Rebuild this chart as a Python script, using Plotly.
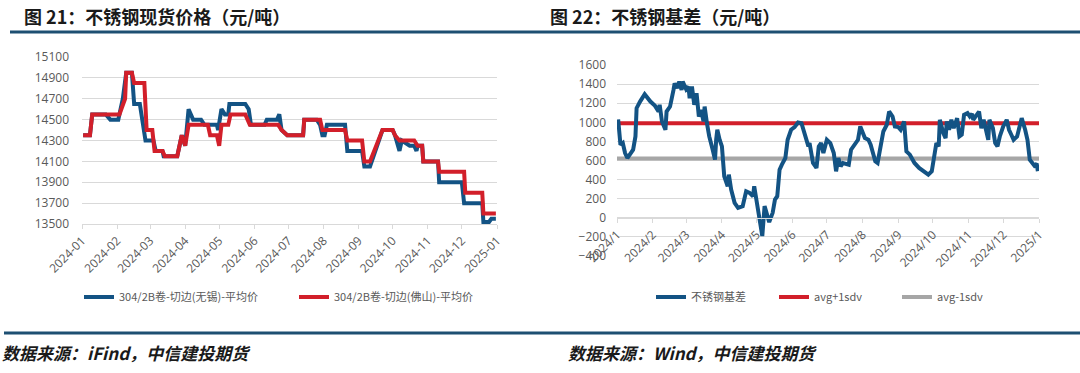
import plotly.graph_objects as go

# ---------------- data: left chart (不锈钢现货价格) ----------------
wx_dates = ["2024-01-02", "2024-01-08", "2024-01-10", "2024-01-22", "2024-01-26", "2024-02-02",
            "2024-02-06", "2024-02-09", "2024-02-14", "2024-02-16", "2024-02-21", "2024-02-23",
            "2024-02-26", "2024-03-04", "2024-03-06", "2024-03-12", "2024-03-13", "2024-03-25",
            "2024-03-29", "2024-04-01", "2024-04-04", "2024-04-08", "2024-04-15", "2024-04-18",
            "2024-04-29", "2024-04-30", "2024-05-03", "2024-05-06", "2024-05-09", "2024-05-10",
            "2024-05-24", "2024-05-27", "2024-05-29", "2024-06-10", "2024-06-12", "2024-06-21",
            "2024-06-23", "2024-06-25", "2024-06-30", "2024-07-14", "2024-07-15", "2024-07-26",
            "2024-07-29", "2024-07-31", "2024-08-02", "2024-08-04", "2024-08-20", "2024-08-22",
            "2024-09-04", "2024-09-06", "2024-09-11", "2024-09-22", "2024-10-01", "2024-10-03",
            "2024-10-07", "2024-10-09", "2024-10-16", "2024-10-20", "2024-10-22", "2024-10-23",
            "2024-10-27", "2024-10-28", "2024-11-10", "2024-11-11", "2024-12-01", "2024-12-03",
            "2024-12-19", "2024-12-20", "2024-12-25", "2024-12-27", "2024-12-31"]
wx_price = [14350, 14350, 14550, 14550, 14500, 14500,
            14700, 14950, 14950, 14650, 14650, 14500,
            14300, 14300, 14200, 14200, 14150, 14150,
            14350, 14250, 14600, 14500, 14500, 14450,
            14450, 14400, 14600, 14550, 14550, 14650,
            14650, 14600, 14450, 14450, 14500, 14500,
            14550, 14400, 14350, 14350, 14500, 14500,
            14450, 14350, 14350, 14450, 14450, 14200,
            14200, 14050, 14050, 14400, 14400, 14350,
            14200, 14300, 14250, 14250, 14200, 14250,
            14250, 14100, 14100, 13900, 13900, 13700,
            13700, 13520, 13520, 13550, 13550]

fs_dates = ["2024-01-02", "2024-01-08", "2024-01-10", "2024-02-03", "2024-02-08", "2024-02-09",
            "2024-02-14", "2024-02-16", "2024-02-25", "2024-02-27", "2024-03-03", "2024-03-05",
            "2024-03-12", "2024-03-14", "2024-03-25", "2024-03-29", "2024-04-01", "2024-04-04",
            "2024-04-21", "2024-04-23", "2024-04-29", "2024-05-01", "2024-05-03", "2024-05-09",
            "2024-05-11", "2024-05-24", "2024-05-28", "2024-06-22", "2024-06-25", "2024-06-30",
            "2024-07-14", "2024-07-15", "2024-07-29", "2024-07-31", "2024-08-20", "2024-08-22",
            "2024-09-04", "2024-09-06", "2024-09-11", "2024-09-22", "2024-10-01", "2024-10-03",
            "2024-10-07", "2024-10-20", "2024-10-23", "2024-10-27", "2024-10-28", "2024-11-10",
            "2024-11-11", "2024-12-03", "2024-12-04", "2024-12-19", "2024-12-20", "2024-12-31"]
fs_price = [14350, 14350, 14550, 14550, 14700, 14950,
            14950, 14850, 14850, 14400, 14400, 14200,
            14200, 14150, 14150, 14350, 14250, 14450,
            14450, 14350, 14350, 14250, 14450, 14450,
            14550, 14550, 14450, 14450, 14400, 14350,
            14350, 14500, 14500, 14400, 14400, 14300,
            14300, 14100, 14100, 14400, 14400, 14350,
            14300, 14300, 14250, 14250, 14100, 14100,
            14000, 14000, 13800, 13800, 13600, 13600]

# ---------------- data: right chart (不锈钢基差) ----------------
basis_dates = ["2024-01-02", "2024-01-03", "2024-01-04", "2024-01-06", "2024-01-08", "2024-01-10",
               "2024-01-12", "2024-01-15", "2024-01-17", "2024-01-18", "2024-01-21", "2024-01-25",
               "2024-01-30", "2024-02-03", "2024-02-06", "2024-02-07", "2024-02-09", "2024-02-12",
               "2024-02-13", "2024-02-16", "2024-02-19", "2024-02-20", "2024-02-22", "2024-02-24",
               "2024-02-26", "2024-02-27", "2024-03-01", "2024-03-03", "2024-03-04", "2024-03-06",
               "2024-03-08", "2024-03-10", "2024-03-12", "2024-03-14", "2024-03-16", "2024-03-17",
               "2024-03-19", "2024-03-21", "2024-03-24", "2024-03-26", "2024-03-27", "2024-03-28",
               "2024-03-30", "2024-04-01", "2024-04-03", "2024-04-06", "2024-04-07", "2024-04-09",
               "2024-04-12", "2024-04-15", "2024-04-19", "2024-04-22", "2024-04-25", "2024-04-28",
               "2024-04-29", "2024-05-02", "2024-05-04", "2024-05-06", "2024-05-08", "2024-05-10",
               "2024-05-12", "2024-05-15", "2024-05-17", "2024-05-19", "2024-05-21", "2024-05-23",
               "2024-05-26", "2024-05-28", "2024-05-31", "2024-06-03", "2024-06-06", "2024-06-09",
               "2024-06-12", "2024-06-15", "2024-06-16", "2024-06-19", "2024-06-22", "2024-06-24",
               "2024-06-26", "2024-06-28", "2024-07-01", "2024-07-04", "2024-07-07", "2024-07-09",
               "2024-07-11", "2024-07-13", "2024-07-15", "2024-07-18", "2024-07-20", "2024-07-22",
               "2024-07-25", "2024-07-28", "2024-07-30", "2024-08-01", "2024-08-03", "2024-08-06",
               "2024-08-08", "2024-08-10", "2024-08-12", "2024-08-14", "2024-08-16", "2024-08-19",
               "2024-08-22", "2024-08-24", "2024-08-27", "2024-08-29", "2024-09-01", "2024-09-03",
               "2024-09-06", "2024-09-08", "2024-09-11", "2024-09-15", "2024-09-19", "2024-09-24",
               "2024-09-27", "2024-09-30", "2024-10-02", "2024-10-04", "2024-10-06", "2024-10-07",
               "2024-10-10", "2024-10-12", "2024-10-13", "2024-10-15", "2024-10-17", "2024-10-19",
               "2024-10-22", "2024-10-24", "2024-10-26", "2024-10-28", "2024-10-31", "2024-11-02",
               "2024-11-04", "2024-11-05", "2024-11-08", "2024-11-10", "2024-11-12", "2024-11-14",
               "2024-11-16", "2024-11-18", "2024-11-19", "2024-11-22", "2024-11-24", "2024-11-26",
               "2024-11-28", "2024-12-01", "2024-12-04", "2024-12-06", "2024-12-08", "2024-12-10",
               "2024-12-13", "2024-12-15", "2024-12-17", "2024-12-20", "2024-12-22", "2024-12-24",
               "2024-12-26", "2024-12-28", "2024-12-30", "2024-12-31"]
basis = [1030, 817, 765, 783, 678, 626,
         661, 713, 852, 1148, 1217, 1294,
         1217, 1172, 1113, 1183, 1009, 922,
         1113, 1165, 1339, 1409, 1357, 1426,
         1339, 1426, 1346, 1374, 1252, 1374,
         1183, 1304, 1061, 1130, 1009, 1165,
         991, 852, 713, 609, 817, 922,
         817, 748, 435, 330, 452, 296,
         157, 104, 122, 278, 261, 226,
         330, 104, -17, -191, 122, 52,
         -45, 52, 191, 226, 504, 557,
         626, 817, 922, 950, 998, 991,
         852, 748, 783, 574, 522, 748,
         783, 678, 817, 783, 678, 487,
         626, 539, 574, 557, 557, 713,
         765, 817, 957, 904, 835, 817,
         765, 678, 591, 574, 713, 904,
         974, 1113, 1061, 957, 950, 922,
         1009, 696, 661, 574, 522, 470,
         452, 487, 643, 783, 748, 1026,
         887, 835, 1009, 922, 1026, 939,
         1043, 852, 870, 1078, 1096, 1061,
         1089, 1026, 1078, 1113, 939, 1026,
         922, 817, 1026, 939, 783, 748,
         852, 957, 1026, 922, 870, 817,
         852, 957, 1043, 922, 817, 609,
         574, 546, 567, 487]
avg_plus_1sdv = 990
avg_minus_1sdv = 620
avg_span = ["2024-01-01", "2025-01-01"]

month_ticks = ["2024-%02d-01" % m for m in range(1, 13)] + ["2025-01-01"]
right_tick_text = ["2024/%d" % m for m in range(1, 13)] + ["2025/1"]

# ---------------- style ----------------
BLUE = "#135384"
RED = "#d21f2a"
GRAY = "#a6a6a6"
GRID = "#d9d9d9"
TXT = "#595959"
FONT = "Open Sans, Noto Sans CJK SC, sans-serif"
CJK = "Noto Sans CJK SC, sans-serif"

W, H = 1080, 373


def px_x(x):
    return x / W


def px_y(y):
    return (H - y) / H


fig = go.Figure()

fig.add_trace(go.Scatter(x=wx_dates, y=wx_price, mode="lines", name="304/2B卷-切边(无锡)-平均价",
                         line=dict(color=BLUE, width=4), xaxis="x", yaxis="y", legend="legend"))
fig.add_trace(go.Scatter(x=fs_dates, y=fs_price, mode="lines", name="304/2B卷-切边(佛山)-平均价",
                         line=dict(color=RED, width=4), xaxis="x", yaxis="y", legend="legend"))
fig.add_trace(go.Scatter(x=avg_span, y=[avg_plus_1sdv] * 2, mode="lines",
                         name="avg+1sdv", line=dict(color=RED, width=4), xaxis="x2", yaxis="y2",
                         legend="legend2", legendrank=2))
fig.add_trace(go.Scatter(x=avg_span, y=[avg_minus_1sdv] * 2, mode="lines",
                         name="avg-1sdv", line=dict(color=GRAY, width=4), xaxis="x2", yaxis="y2",
                         legend="legend2", legendrank=3))
fig.add_trace(go.Scatter(x=basis_dates, y=basis, mode="lines", name="不锈钢基差",
                         line=dict(color=BLUE, width=4), xaxis="x2", yaxis="y2",
                         legend="legend2", legendrank=1))

common_x = dict(type="date", showgrid=False, showline=True, linecolor=GRID, linewidth=1,
                ticks="outside", ticklen=4, tickcolor=GRID, tickangle=-45, automargin=False,
                tickfont=dict(family=FONT, size=12, color=TXT), zeroline=False)
common_y = dict(showgrid=True, gridcolor=GRID, gridwidth=1, zeroline=False, showline=False,
                ticks="", tickformat="d", automargin=False,
                tickfont=dict(family=FONT, size=12, color=TXT))

fig.update_layout(
    template="none",
    width=W, height=H,
    margin=dict(l=0, r=0, t=0, b=0, autoexpand=False),
    paper_bgcolor="white", plot_bgcolor="white",
    xaxis=dict(common_x, domain=[px_x(82), px_x(497)], anchor="y",
               range=["2024-01-01", "2025-01-01"], tickvals=month_ticks, tickformat="%Y-%m"),
    yaxis=dict(common_y, domain=[px_y(224), px_y(57)], anchor="x", ticklabelstandoff=12,
               range=[13500, 15100], dtick=200, tick0=13500),
    xaxis2=dict(common_x, domain=[px_x(617), px_x(1039)], anchor="free", position=px_y(218),
                range=["2024-01-01", "2025-01-01"], tickvals=month_ticks, ticktext=right_tick_text),
    yaxis2=dict(common_y, domain=[px_y(256), px_y(65)], anchor="x2", ticklabelstandoff=10,
                range=[-400, 1600], dtick=200, tick0=-400),
    legend=dict(orientation="h", x=px_x(79), y=px_y(297), xanchor="left", yanchor="middle",
                font=dict(family=CJK, size=11, color=TXT), bgcolor="rgba(0,0,0,0)",
                entrywidth=170, entrywidthmode="pixels"),
    legend2=dict(orientation="h", x=px_x(651), y=px_y(297), xanchor="left", yanchor="middle",
                 font=dict(family=CJK, size=11, color=TXT), bgcolor="rgba(0,0,0,0)",
                 entrywidth=78, entrywidthmode="pixels"),
    showlegend=True,
)

# titles
fig.add_annotation(text="<b>图 21：不锈钢现货价格（元/吨）</b>", x=px_x(22), y=px_y(16),
                   xref="paper", yref="paper", xanchor="left", yanchor="middle", showarrow=False,
                   font=dict(family=CJK, size=18, color="#1a1a1a"))
fig.add_annotation(text="<b>图 22：不锈钢基差（元/吨）</b>", x=px_x(548), y=px_y(16),
                   xref="paper", yref="paper", xanchor="left", yanchor="middle", showarrow=False,
                   font=dict(family=CJK, size=18, color="#1a1a1a"))
# sources
fig.add_annotation(text="<b><i>数据来源：iFind，中信建投期货</i></b>", x=px_x(0), y=px_y(352),
                   xref="paper", yref="paper", xanchor="left", yanchor="middle", showarrow=False,
                   font=dict(family=CJK, size=17, color="#1a1a1a"))
fig.add_annotation(text="<b><i>数据来源：Wind，中信建投期货</i></b>", x=px_x(566), y=px_y(352),
                   xref="paper", yref="paper", xanchor="left", yanchor="middle", showarrow=False,
                   font=dict(family=CJK, size=17, color="#1a1a1a"))

# decorative rules
fig.add_shape(type="line", xref="paper", yref="paper", x0=px_x(10), x1=px_x(1080),
              y0=px_y(32), y1=px_y(32), line=dict(color="#1d4f72", width=3))
fig.add_shape(type="line", xref="paper", yref="paper", x0=px_x(4), x1=px_x(1080),
              y0=px_y(333), y1=px_y(333), line=dict(color="#1d4f72", width=3))

fig.write_html("out.html", config={"displayModeBar": False},
               post_script="document.body.style.margin='0';")
